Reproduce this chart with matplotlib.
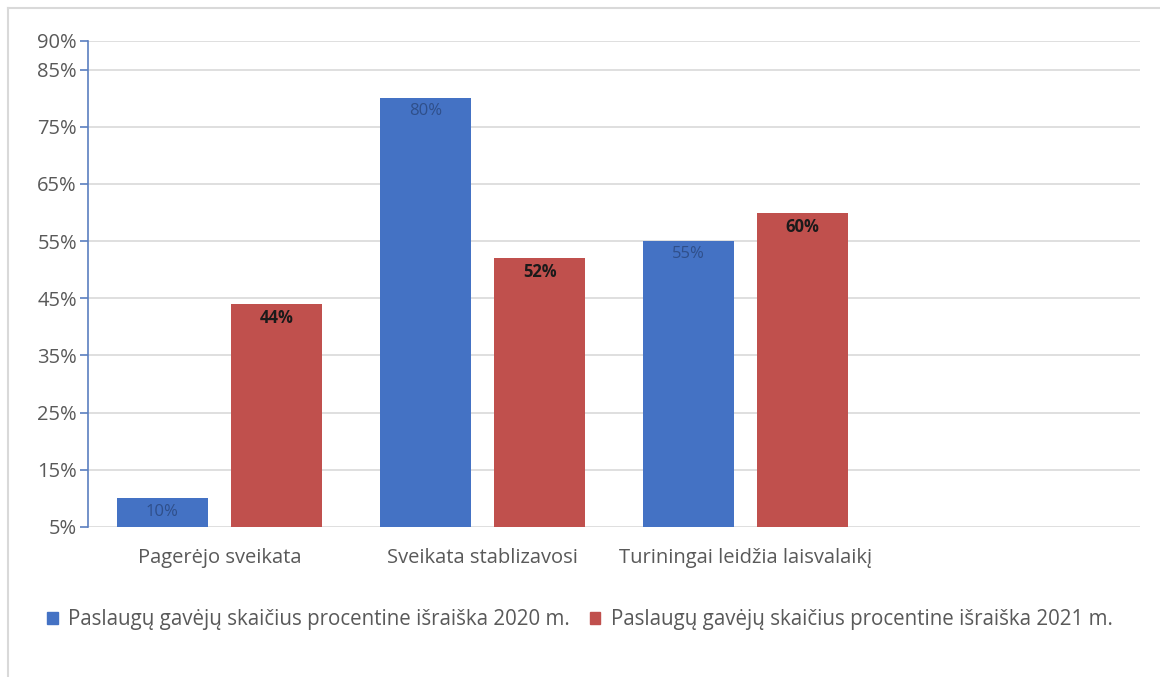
import numpy as np
import matplotlib.pyplot as plt
from matplotlib.lines import Line2D

categories = ["Pagerėjo sveikata", "Sveikata stablizavosi", "Turiningai leidžia laisvalaikį", ""]
values_2020 = [10, 80, 55]
values_2021 = [44, 52, 60]
series_names = ["Paslaugų gavėjų skaičius procentine išraiška 2020 m.",
                "Paslaugų gavėjų skaičius procentine išraiška 2021 m."]
yticks = [5, 15, 25, 35, 45, 55, 65, 75, 85, 90]

plt.rcParams['font.family'] = ['Open Sans', 'DejaVu Sans']

blue = "#4472C4"
red = "#C0504D"
gray = "#595959"

fig = plt.figure(figsize=(11.6, 6.77), dpi=100)
ax = fig.add_axes([88 / 1160, 1 - 527 / 677, 1052 / 1160, 486 / 677])

x = np.arange(len(values_2020))
w = 0.346
off = 0.217
b1 = ax.bar(x - off, values_2020, w, color=blue, zorder=3)
b2 = ax.bar(x + off, values_2021, w, color=red, zorder=3)

# value labels just inside the top of each bar
for rect, v in zip(b1, values_2020):
    ax.text(rect.get_x() + rect.get_width() / 2, v - 0.9, f"{v}%", ha="center", va="top",
            fontsize=12, color="#2F4F8A", zorder=4)
for rect, v in zip(b2, values_2021):
    ax.text(rect.get_x() + rect.get_width() / 2, v - 0.9, f"{v}%", ha="center", va="top",
            fontsize=12, color="#1a1a1a", fontweight="bold", zorder=4)

ax.set_xlim(-0.5, 3.5)
ax.set_ylim(5, 90)
ax.set_yticks(yticks)
ax.set_yticklabels([f"{t}%" for t in yticks])
ax.set_xticks(range(len(categories)))
ax.set_xticklabels(categories)
ax.grid(axis="y", color="#D9D9D9", linewidth=1.2, zorder=0)

for s in ["top", "right", "bottom"]:
    ax.spines[s].set_visible(False)
ax.spines["left"].set_color("#5B7FC0")
ax.spines["left"].set_linewidth(1.2)
ax.tick_params(axis="y", colors="#5B7FC0", length=6, width=1.2, labelcolor=gray,
               labelsize=14.5, pad=2)
ax.tick_params(axis="x", length=0, labelcolor=gray, labelsize=14.5, pad=15)

handles = [plt.Rectangle((0, 0), 1, 1, color=blue), plt.Rectangle((0, 0), 1, 1, color=red)]
fig.legend(handles, series_names, loc="center", bbox_to_anchor=(580 / 1160, 1 - 620 / 677),
           ncol=2, frameon=False, fontsize=14.8, labelcolor=gray, handlelength=0.5,
           handleheight=0.5, handletextpad=0.5, columnspacing=1.0)

# light frame on the left and top edges
fig.add_artist(Line2D([8 / 1160, 8 / 1160], [0, 1 - 8 / 677], transform=fig.transFigure,
                      color="#D9D9D9", linewidth=1.5))
fig.add_artist(Line2D([8 / 1160, 1], [1 - 8 / 677, 1 - 8 / 677], transform=fig.transFigure,
                      color="#D9D9D9", linewidth=1.5))

fig.savefig("out.png", dpi=100, facecolor="white")
